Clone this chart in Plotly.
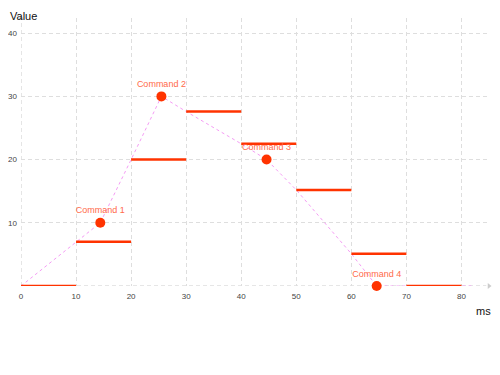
import plotly.graph_objects as go

# Data
step_starts = [0, 10, 20, 30, 40, 50, 60, 70]
step_width = 10
step_values = [0, 7, 20, 27.6, 22.5, 15.2, 5.1, 0]
cmd_x = [14.4, 25.5, 44.6, 64.6]
cmd_y = [10, 30, 20, 0]
cmd_labels = ["Command 1", "Command 2", "Command 3", "Command 4"]
x_ticks = [0, 10, 20, 30, 40, 50, 60, 70, 80]
y_ticks = [10, 20, 30, 40]

RED = "#ff3300"
LBL = "#ff6a4a"
PINK = "#f59cf5"
GRID = "#dedede"

fig = go.Figure()

# interpolation path through step starts and commands
pts = sorted(list(zip(step_starts, step_values)) + list(zip(cmd_x, cmd_y)) +
             [(step_starts[-1] + step_width, step_values[-1])])
fig.add_trace(go.Scatter(x=[p[0] for p in pts] + [82], y=[p[1] for p in pts] + [0],
                         mode="lines", line=dict(color=PINK, width=1, dash="dot"),
                         hoverinfo="skip", showlegend=False))

# step segments
sx, sy = [], []
for s, v in zip(step_starts, step_values):
    sx += [s, s + step_width, None]
    sy += [v, v, None]
fig.add_trace(go.Scatter(x=sx, y=sy, mode="lines", line=dict(color=RED, width=2.5),
                         showlegend=False, cliponaxis=False))

# commands
fig.add_trace(go.Scatter(x=cmd_x, y=cmd_y, mode="markers+text", text=cmd_labels,
                         textposition="top center",
                         textfont=dict(color=LBL, size=9, family="Liberation Sans, Arial"),
                         marker=dict(color=RED, size=10), showlegend=False,
                         cliponaxis=False))

# axis arrows
fig.add_trace(go.Scatter(x=[85, 0], y=[0, 42.4], mode="markers",
                         marker=dict(symbol=["triangle-right", "triangle-up"], size=5,
                                     color="#cccccc"),
                         showlegend=False, cliponaxis=False, hoverinfo="skip"))

fig.add_shape(type="line", x0=0, y0=0, x1=84.5, y1=0, line=dict(color="#cccccc", width=1, dash="4px,3px"),
              layer="below")
fig.add_shape(type="line", x0=0, y0=0, x1=0, y1=42, line=dict(color="#cccccc", width=1, dash="4px,3px"),
              layer="below")

fig.update_layout(
    width=492, height=358,
    margin=dict(l=13, r=11, t=10, b=80, autoexpand=False),
    plot_bgcolor="white", paper_bgcolor="white",
    font=dict(family="Liberation Sans, Arial", size=8, color="#444444"),
    xaxis=dict(range=[0, 85], tickvals=x_ticks, showgrid=True, gridcolor=GRID,
               griddash="4px,3px", gridwidth=1, zeroline=False, showline=False,
               automargin=False,
               ticks="", ticklabelstandoff=4, tickfont=dict(size=8, color="#444444")),
    yaxis=dict(range=[0, 42.4], tickvals=y_ticks, showgrid=True, gridcolor=GRID,
               griddash="4px,3px", gridwidth=1, zeroline=False, showline=False,
               automargin=False,
               ticks="", ticklabelstandoff=3, tickfont=dict(size=8, color="#444444")),
    annotations=[
        dict(text="Value", xref="paper", yref="paper", x=-13/468, y=1 + 2/268,
             xanchor="left", yanchor="middle", showarrow=False,
             font=dict(size=11, color="#111111")),
        dict(text="ms", xref="paper", yref="paper", x=1, y=0,
             xanchor="right", yanchor="middle", showarrow=False,
             font=dict(size=11, color="#111111"), xshift=4, yshift=-25),
    ],
)

fig.write_html("out.html")
